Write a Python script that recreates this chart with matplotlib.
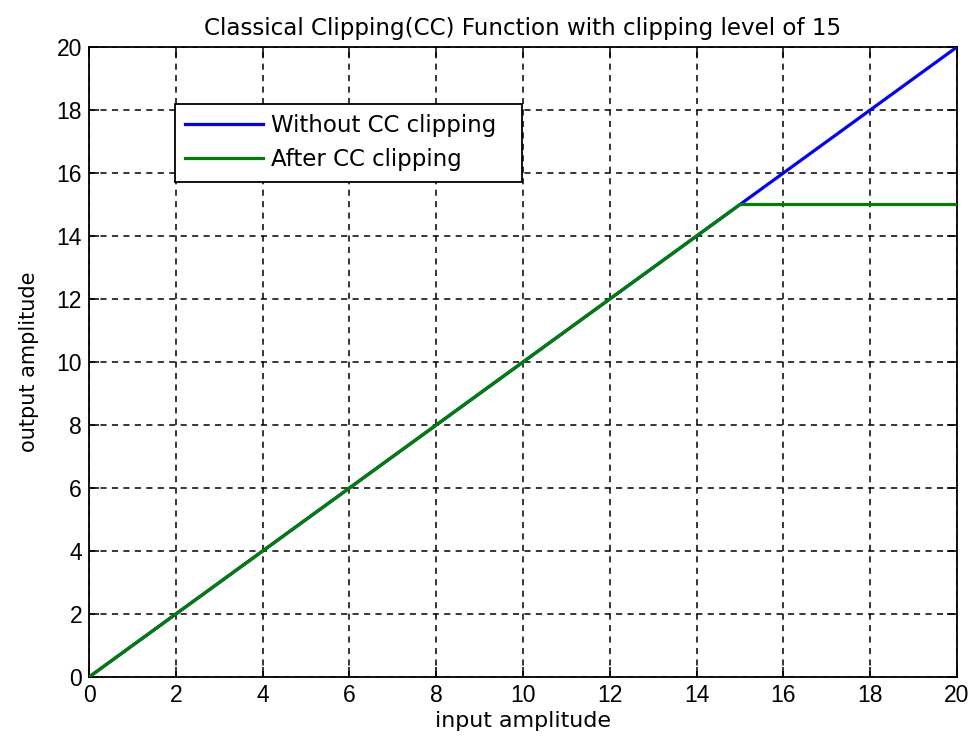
#!/usr/bin/env python3
"""
Plot of the classical clipping (CC) transfer function, clipping level 15.
"""

import matplotlib
matplotlib.use("Agg")
import matplotlib.pyplot as plt

# Breakpoints of the transfer curves
input_amp = [0, 15, 20]
without_cc = [0, 15, 20]
after_cc = [0, 15, 15]

x_ticks = [0, 2, 4, 6, 8, 10, 12, 14, 16, 18, 20]
y_ticks = [0, 2, 4, 6, 8, 10, 12, 14, 16, 18, 20]

plt.rcParams["font.family"] = ["Liberation Sans", "DejaVu Sans"]
plt.rcParams["font.size"] = 16.5
wide = ["DejaVu Sans"]

fig = plt.figure(figsize=(9.74, 7.44), dpi=100)
ax = fig.add_axes([0.0914, 0.09, 0.8911, 0.8468])

ax.plot(input_amp, without_cc, color="#0000ff", linewidth=2.3,
        label="Without CC clipping", zorder=3)
ax.plot(input_amp, after_cc, color="#008000", linewidth=2.3,
        label="After CC clipping", zorder=4)

ax.set_xlim(0, 20)
ax.set_ylim(0, 20)
ax.set_xticks(x_ticks)
ax.set_yticks(y_ticks)

ax.grid(True, color="black", linestyle=(0, (4, 3.5)), linewidth=1.1)
ax.tick_params(direction="in", length=7, width=1.1, colors="black",
               top=True, right=True, pad=5)
for spine in ax.spines.values():
    spine.set_linewidth(1.3)
    spine.set_color("black")

ax.set_title("Classical Clipping(CC) Function with clipping level of 15",
             fontsize=16.6, family=wide, pad=9)
ax.set_xlabel("input amplitude", fontsize=15.9, family=wide, labelpad=3)
ax.set_ylabel("output amplitude", fontsize=15, family=wide, labelpad=13)

# legend box stretched to a fixed width in axes coordinates
leg = ax.legend(loc="upper left", bbox_to_anchor=(0.099, 0.91, 0.40, 0.0),
                mode="expand", fancybox=False, framealpha=1,
                edgecolor="black", handlelength=3.4, handletextpad=0.35,
                borderpad=0.45, labelspacing=0.5, borderaxespad=0,
                prop={"family": wide, "size": 16.5})
leg.get_frame().set_linewidth(1.3)

fig.savefig("out.png", dpi=100)
